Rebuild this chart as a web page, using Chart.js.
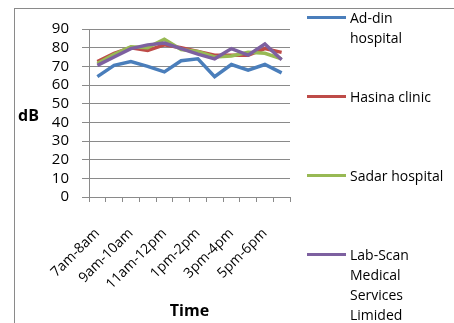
<!DOCTYPE html>
<html>
<head>
<meta charset="utf-8">
<script src="https://cdn.jsdelivr.net/npm/chart.js@4/dist/chart.umd.min.js"></script>
<style>
  html, body { margin: 0; padding: 0; background: #fff; }
  #wrap { position: relative; width: 454px; height: 323px; overflow: hidden; }
  #frame { position: absolute; left: 14px; top: 8px; width: 460px; height: 340px;
           border: 1px solid #8a8a8a; box-sizing: border-box; }
  canvas { position: absolute; left: 0; top: 0; }
  .legend { position: absolute; left: 307px; font: 14px "Open Sans", Lato, sans-serif; color: #000; }
  .legend .sw { position: absolute; left: 0; width: 39px; height: 3px; }
  .legend .tx { position: absolute; left: 43px; line-height: 20px; white-space: nowrap; }
  #ylab { position: absolute; left: 18px; top: 104px; font: bold 16px "Open Sans", Lato, sans-serif; }
</style>
</head>
<body>
<div id="wrap">
  <div id="frame"></div>
  <canvas id="c" width="454" height="323"></canvas>
  <div id="ylab">dB</div>
  <div id="legend"></div>
</div>
<script>
const timeSlots = ['7am-8am', '8am-9am', '9am-10am', '10am-11am', '11am-12pm', '12pm-1pm',
                   '1pm-2pm', '2pm-3pm', '3pm-4pm', '4pm-5pm', '5pm-6pm', '6pm-7pm'];
const adDin    = [64.5, 70.5, 72.5, 70, 67, 73, 74, 64.5, 71, 68, 71, 66.5];
const hasina   = [72.5, 77, 80, 78.5, 81.5, 80, 78, 76, 76, 76, 79.5, 77.5];
const sadar    = [71.5, 76.5, 80.5, 80, 84.5, 79, 78, 75, 75.5, 77.5, 77, 74];
const labScan  = [70.5, 75, 79.5, 81.5, 82.5, 79.5, 76.5, 74, 79.5, 76, 82, 73.5];
const yTicks   = [0, 10, 20, 30, 40, 50, 60, 70, 80, 90];

const seriesNames = ['Ad-din hospital', 'Hasina clinic', 'Sadar hospital', 'Lab-Scan Medical Services Limided'];
const seriesLines = [['Ad-din', 'hospital'], ['Hasina clinic'], ['Sadar hospital'], ['Lab-Scan', 'Medical', 'Services', 'Limided']];
const seriesColors = ['#4a7ebb', '#be4b48', '#98b954', '#7d60a0'];
const legendTops = [8, 87, 166, 245];

const font = '"Open Sans", Lato, sans-serif';
const gridColor = '#8a8a8a';

// later series are painted over earlier ones
const datasets = [adDin, hasina, sadar, labScan].map((vals, i, all) => ({
  label: seriesNames[i],
  data: vals,
  order: all.length - 1 - i,
  borderColor: seriesColors[i],
  backgroundColor: seriesColors[i],
  borderWidth: 3.5,
  pointRadius: 0,
  tension: 0,
  fill: false
}));

new Chart(document.getElementById('c'), {
  type: 'line',
  data: { labels: timeSlots, datasets },
  options: {
    responsive: false,
    animation: false,
    layout: { padding: { left: 14, top: 29, right: 164, bottom: 0 } },
    plugins: { legend: { display: false }, tooltip: { enabled: false } },
    scales: {
      x: {
        offset: true,
        grid: { offset: true, drawOnChartArea: false, drawTicks: true, tickLength: 5, color: gridColor },
        border: { color: gridColor, width: 1 },
        ticks: {
          autoSkip: false, maxRotation: 45, minRotation: 45, padding: 23,
          color: '#000', font: { family: font, size: 14 },
          callback: (v, i) => (i % 2 === 0 ? timeSlots[i] : '')
        },
        title: { display: true, text: 'Time', color: '#000', font: { family: font, size: 16, weight: 'bold' }, padding: { top: 10, bottom: 2 } },
        afterFit: s => { s.height = 126; }
      },
      y: {
        min: 0, max: 90,
        afterBuildTicks: s => { s.ticks = yTicks.map(v => ({ value: v })); },
        grid: { color: gridColor, tickLength: 7, drawTicks: true },
        border: { color: gridColor, width: 1 },
        ticks: { autoSkip: false, padding: 13, color: '#000', font: { family: font, size: 15 } },
        afterFit: s => { s.width = 75; }
      }
    }
  }
});

// legend entries
const leg = document.getElementById('legend');
seriesLines.forEach((lines, i) => {
  const item = document.createElement('div');
  item.className = 'legend';
  item.style.top = legendTops[i] + 'px';
  const sw = document.createElement('div');
  sw.className = 'sw';
  sw.style.top = '8px';
  sw.style.background = seriesColors[i];
  const tx = document.createElement('div');
  tx.className = 'tx';
  tx.innerHTML = lines.join('<br>');
  item.appendChild(sw);
  item.appendChild(tx);
  leg.appendChild(item);
});
</script>
</body>
</html>
